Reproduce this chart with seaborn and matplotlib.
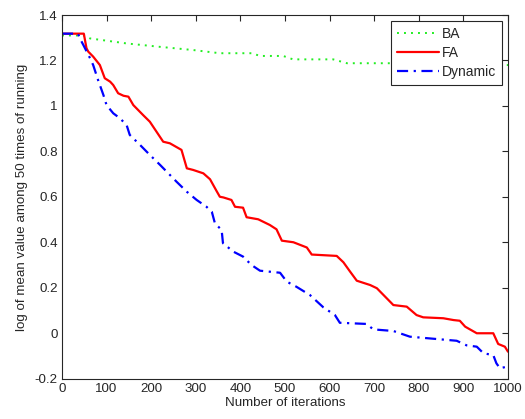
import matplotlib
matplotlib.use("Agg")
import matplotlib.pyplot as plt
import seaborn as sns
import pandas as pd

# Convergence curves: log of mean objective value over 50 runs
ba_iter = [0, 50, 63, 145, 220, 294, 354, 426, 444, 496, 518, 608, 639, 735, 1000]
ba_vals = [1.31, 1.31, 1.297, 1.275, 1.26, 1.246, 1.232, 1.232, 1.22, 1.22,
           1.205, 1.205, 1.188, 1.188, 1.18]

fa_iter = [0, 49, 55, 59, 70, 85, 96, 108, 115, 126, 138, 149, 160, 182, 197,
           212, 227, 242, 268, 280, 294, 317, 332, 347, 354, 362, 380, 388, 406,
           414, 440, 466, 481, 493, 519, 549, 560, 616, 631, 646, 661, 691, 706,
           728, 743, 773, 795, 810, 855, 878, 892, 904, 930, 967, 978, 993, 1000]
fa_vals = [1.318, 1.318, 1.254, 1.239, 1.217, 1.18, 1.122, 1.107, 1.092, 1.056,
           1.045, 1.041, 1.004, 0.96, 0.931, 0.887, 0.843, 0.836, 0.807, 0.726,
           0.719, 0.704, 0.678, 0.625, 0.601, 0.598, 0.587, 0.557, 0.553, 0.511,
           0.502, 0.477, 0.458, 0.408, 0.401, 0.378, 0.347, 0.341, 0.313, 0.272,
           0.232, 0.213, 0.199, 0.155, 0.125, 0.118, 0.081, 0.071, 0.067, 0.059,
           0.056, 0.03, 0.001, 0.001, -0.046, -0.058, -0.08]

dyn_iter = [0, 36, 40, 48, 63, 70, 81, 93, 100, 115, 130, 145, 152, 175, 197,
            220, 242, 257, 280, 302, 324, 336, 343, 358, 361, 384, 406, 425, 444,
            489, 504, 526, 556, 586, 612, 623, 683, 698, 743, 780, 803, 885, 907,
            930, 945, 967, 974, 982, 997, 1000]
dyn_vals = [1.318, 1.318, 1.298, 1.268, 1.21, 1.18, 1.114, 1.048, 1.004, 0.968,
            0.946, 0.916, 0.873, 0.829, 0.785, 0.741, 0.697, 0.667, 0.623, 0.587,
            0.557, 0.535, 0.484, 0.455, 0.397, 0.36, 0.338, 0.301, 0.276, 0.267,
            0.228, 0.205, 0.169, 0.115, 0.081, 0.047, 0.042, 0.018, 0.011, -0.014,
            -0.018, -0.032, -0.052, -0.058, -0.087, -0.095, -0.131, -0.153,
            -0.146, -0.15]

x_ticks = [0, 100, 200, 300, 400, 500, 600, 700, 800, 900, 1000]
y_ticks = [-0.2, 0, 0.2, 0.4, 0.6, 0.8, 1, 1.2, 1.4]
y_tick_labels = ["-0.2", "0", "0.2", "0.4", "0.6", "0.8", "1", "1.2", "1.4"]

sns.set_style("white")
plt.rcParams["font.family"] = ["Liberation Sans", "DejaVu Sans"]
plt.rcParams["font.size"] = 10

fig = plt.figure(figsize=(5.25, 4.19), dpi=100)
ax = fig.add_axes([0.118, 0.0955, 0.8496, 0.8687])

sns.lineplot(x=ba_iter, y=ba_vals, ax=ax, color="#22ee22", lw=1.4,
             label="BA", linestyle=(0, (1, 2.6)))
sns.lineplot(x=fa_iter, y=fa_vals, ax=ax, color="#ff0000", lw=1.6,
             label="FA")
sns.lineplot(x=dyn_iter, y=dyn_vals, ax=ax, color="#0000ff", lw=1.6,
             label="Dynamic", linestyle=(0, (5, 2.5, 1, 2.5)))

ax.set_xlim(0, 1000)
ax.set_ylim(-0.2, 1.4)
ax.set_xticks(x_ticks)
ax.set_yticks(y_ticks)
ax.set_yticklabels(y_tick_labels)
ax.tick_params(direction="in", length=4.5, width=0.8, top=True, right=True,
               labelsize=9.6, colors="#262626", pad=3)
for s in ax.spines.values():
    s.set_color("#262626")
    s.set_linewidth(0.8)
    s.set_visible(True)

ax.set_xlabel("Number of iterations", fontsize=9.6, labelpad=1)
ax.set_ylabel("log of mean value among 50 times of running", fontsize=9.6,
              labelpad=5)

leg = ax.legend(loc="upper right", frameon=True, fancybox=False, fontsize=10,
                handlelength=3.0, borderaxespad=0.4, labelspacing=0.35,
                handletextpad=0.2, borderpad=0.45, framealpha=1)
leg.get_frame().set_edgecolor("#262626")
leg.get_frame().set_linewidth(0.8)

fig.savefig("out.png", dpi=100)
